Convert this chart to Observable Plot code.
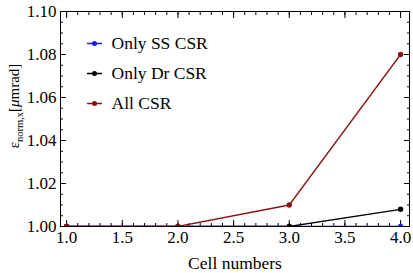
<!DOCTYPE html>
<html><head><meta charset="utf-8">
<script src="https://cdn.jsdelivr.net/npm/d3@7"></script>
<script src="https://cdn.jsdelivr.net/npm/@observablehq/plot@0.6"></script>
<style>body{margin:0;background:#fff}#chart{width:413px;height:273px}#chart svg text{font-family:"Liberation Serif","Times New Roman",serif !important}</style>
</head><body><div id="chart"></div>
<script>
const cells = [1, 2, 3, 4];
const onlySS = [1.000, 1.000, 1.000, 1.000];
const onlyDr = [1.000, 1.000, 1.000, 1.008];
const allCSR = [1.000, 1.000, 1.010, 1.080];
const seriesNames = ["Only SS CSR", "Only Dr CSR", "All CSR"];
const seriesColors = ["#1a1ae6", "#000000", "#8b1212"];
const xTicks = [1.0, 1.5, 2.0, 2.5, 3.0, 3.5, 4.0];
const yTicks = [1.00, 1.02, 1.04, 1.06, 1.08, 1.10];
const xMinor = [1.0,1.1,1.2,1.3,1.4,1.5,1.6,1.7,1.8,1.9,2.0,2.1,2.2,2.3,2.4,2.5,2.6,2.7,2.8,2.9,3.0,3.1,3.2,3.3,3.4,3.5,3.6,3.7,3.8,3.9,4.0];
const yMinor = [1.000,1.005,1.010,1.015,1.020,1.025,1.030,1.035,1.040,1.045,1.050,1.055,1.060,1.065,1.070,1.075,1.080,1.085,1.090,1.095,1.100];
const xLabel = "Cell numbers";

const FONT = "'Liberation Serif', 'Times New Roman', serif";
const seriesValues = [onlySS, onlyDr, allCSR];
const rows = seriesValues.flatMap((vals, s) => cells.map((c, i) => ({cell: c, value: vals[i], series: seriesNames[s]})));

const lineShape = {draw(context, l) { context.moveTo(0, 0); context.lineTo(0, -l); }};

const marks = [];
// inward ticks on all four sides
for (const anchor of ["bottom", "top"]) {
  marks.push(Plot.axisX(xMinor, {anchor, tickSize: -3, text: null, label: null}));
  marks.push(Plot.axisX(xTicks, {anchor, tickSize: -6, text: null, label: null}));
}
for (const anchor of ["left", "right"]) {
  marks.push(Plot.axisY(yMinor, {anchor, tickSize: -3, text: null, label: null}));
  marks.push(Plot.axisY(yTicks, {anchor, tickSize: -6, text: null, label: null}));
}
marks.push(Plot.axisX(xTicks, {anchor: "bottom", tickSize: 0, tickPadding: 4, tickFormat: d => d.toFixed(1), label: null, fontSize: 17, fontFamily: FONT}));
marks.push(Plot.axisY(yTicks, {anchor: "left", tickSize: 0, tickPadding: 4, tickFormat: d => d.toFixed(2), label: null, fontSize: 17, fontFamily: FONT}));
marks.push(Plot.frame({stroke: "#000", strokeWidth: 1}));

seriesNames.forEach((name, s) => {
  const data = rows.filter(d => d.series === name);
  marks.push(Plot.line(data, {x: "cell", y: "value", stroke: seriesColors[s], strokeWidth: 1.3, clip: true}));
  marks.push(Plot.dot(data, {x: "cell", y: "value", fill: seriesColors[s], r: 2.7, clip: true}));
});

// legend inside the frame
seriesNames.forEach((name, s) => {
  const dy = [32, 62, 92][s];
  marks.push(Plot.vector([name], {frameAnchor: "top-left", dx: 34, dy, length: 14, rotate: 90, anchor: "middle", shape: lineShape, stroke: seriesColors[s], strokeWidth: 1.3}));
  marks.push(Plot.dot([name], {frameAnchor: "top-left", dx: 34, dy, r: 2.5, fill: seriesColors[s]}));
  marks.push(Plot.text([name], {frameAnchor: "top-left", dx: 51, dy, text: d => d, textAnchor: "start", lineAnchor: "middle", fontSize: 17.5, fontFamily: FONT, fill: "#000"}));
});
marks.push(Plot.text([xLabel], {frameAnchor: "bottom", dy: 37, text: d => d, lineAnchor: "middle", fontSize: 17.5, fontFamily: FONT, fill: "#000"}));

const chart = Plot.plot({
  width: 413, height: 273,
  marginLeft: 60, marginRight: 4, marginTop: 11, marginBottom: 47,
  style: {fontFamily: FONT, fontSize: "17px", background: "#fff", color: "#000"},
  x: {domain: [0.945, 4.08]},
  y: {domain: [1.0, 1.1]},
  marks
});
document.getElementById("chart").appendChild(chart);

// y-axis label with subscript
const svg = d3.select(chart);
const t = svg.append("text")
  .attr("transform", "translate(19,106) rotate(-90)")
  .attr("text-anchor", "middle")
  .attr("font-family", FONT)
  .attr("font-size", 15)
  .attr("fill", "#000");
t.append("tspan").text("ε");
t.append("tspan").attr("font-size", 10.5).attr("dy", 3.5).text("norm,x");
t.append("tspan").attr("dy", -3.5).text("[");
t.append("tspan").attr("font-style", "italic").text("μ");
t.append("tspan").text("mrad]");
</script></body></html>
